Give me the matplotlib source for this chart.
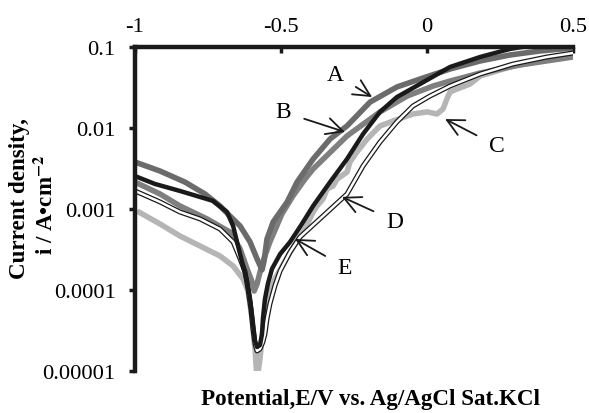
import matplotlib
matplotlib.use("Agg")
import matplotlib.pyplot as plt
from matplotlib.ticker import FixedLocator, FixedFormatter

plt.rcParams['font.family'] = ['Liberation Serif', 'DejaVu Serif']
plt.rcParams['mathtext.fontset'] = 'stix'

# ---- data (potential E / V, current density i / A cm^-2) ----
E_A = [-1.000, -0.914, -0.829, -0.760, -0.709, -0.675, -0.640, -0.606, -0.582, -0.565,
       -0.558, -0.548, -0.527, -0.479, -0.445, -0.390, -0.332, -0.274, -0.195, -0.103,
       -0.024, 0.079, 0.182, 0.284, 0.387, 0.500]
i_A = [0.00380, 0.00294, 0.00215, 0.00153, 0.00109, 0.000820, 0.000617, 0.000392, 0.000242, 0.000177,
       0.000228, 0.000427, 0.000691, 0.00122, 0.00215, 0.00414, 0.00731, 0.0106, 0.0209, 0.0321,
       0.0402, 0.0535, 0.0672, 0.0797, 0.0893, 0.0972]

E_B = [-1.000, -0.914, -0.846, -0.753, -0.675, -0.640, -0.616, -0.599, -0.592, -0.582,
       -0.565, -0.538, -0.497, -0.459, -0.418, -0.390, -0.274, -0.161, -0.068, 0.021,
       0.079, 0.182, 0.318, 0.500]
i_B = [0.00215, 0.00153, 0.00109, 0.000753, 0.000520, 0.000321, 0.000182, 0.000126, 9.72e-5, 0.000119,
       0.000209, 0.000392, 0.000867, 0.00145, 0.00234, 0.00312, 0.00797, 0.0158, 0.0248, 0.0330,
       0.0380, 0.0477, 0.0600, 0.0753]

E_C = [-0.993, -0.914, -0.846, -0.777, -0.709, -0.664, -0.630, -0.613, -0.599, -0.589,
       -0.582, -0.572, -0.562, -0.545, -0.521, -0.486, -0.452, -0.418, -0.390, -0.377,
       -0.356, -0.342, -0.322, -0.308, -0.274, -0.264, -0.240, -0.205, -0.161, -0.116,
       -0.048, 0.000, 0.034, 0.055, 0.068, 0.079, 0.103, 0.147, 0.182, 0.295, 0.411, 0.500]
i_C = [0.000944, 0.000653, 0.000464, 0.000349, 0.000263, 0.000198, 0.000137, 9.72e-5, 4.38e-5, 1.87e-5,
       7.96e-6, 1.41e-5, 3.30e-5, 7.74e-5, 0.000137, 0.000228, 0.000370, 0.000566, 0.000918, 0.00109,
       0.00133, 0.00177, 0.00192, 0.00234, 0.00286, 0.00380, 0.00506, 0.00731, 0.0106, 0.0122,
       0.0149, 0.0158, 0.0149, 0.0172, 0.0228, 0.0278, 0.0303, 0.0349, 0.0438, 0.0582, 0.0691, 0.0774]

E_D = [-1.000, -0.914, -0.846, -0.777, -0.709, -0.664, -0.640, -0.623, -0.613, -0.603,
       -0.596, -0.589, -0.582, -0.572, -0.562, -0.555, -0.548, -0.538, -0.521, -0.503,
       -0.469, -0.435, -0.356, -0.274, -0.219, -0.161, -0.103, -0.048, 0.010, 0.079,
       0.182, 0.295, 0.411, 0.500]
i_D = [0.00167, 0.00122, 0.000918, 0.000753, 0.000566, 0.000392, 0.000242, 0.000167, 0.000103, 5.82e-5,
       3.30e-5, 2.15e-5, 1.77e-5, 1.87e-5, 2.28e-5, 2.86e-5, 4.38e-5, 6.71e-5, 0.000112, 0.000172,
       0.000294, 0.000451, 0.000820, 0.00153, 0.00340, 0.00671, 0.0119, 0.0187, 0.0248, 0.0330,
       0.0464, 0.0617, 0.0753, 0.0843]

E_E = [-1.000, -0.932, -0.846, -0.733, -0.685, -0.664, -0.647, -0.630, -0.616, -0.606,
       -0.596, -0.589, -0.582, -0.572, -0.565, -0.562, -0.555, -0.545, -0.531, -0.503,
       -0.469, -0.435, -0.390, -0.332, -0.274, -0.219, -0.161, -0.103, -0.024, 0.079,
       0.182, 0.284, 0.387, 0.500]
i_E = [0.00255, 0.00204, 0.00167, 0.00126, 0.000918, 0.000617, 0.000349, 0.000198, 0.000126, 7.74e-5,
       3.80e-5, 2.35e-5, 1.98e-5, 2.09e-5, 2.86e-5, 4.38e-5, 7.74e-5, 0.000119, 0.000182, 0.000278,
       0.000392, 0.000600, 0.00109, 0.00215, 0.00414, 0.00843, 0.0158, 0.0241, 0.0349, 0.0567,
       0.0753, 0.0945, 0.109, 0.122]

x_ticks = [-1, -0.5, 0, 0.5]
x_tick_labels = ['-1', '-0.5', '0', '0.5']
y_ticks = [1e-5, 1e-4, 1e-3, 1e-2, 1e-1]
y_tick_labels = ['0.00001', '0.0001', '0.001', '0.01', '0.1']

labels = ['A', 'B', 'C', 'D', 'E']
arrow_tips = [(-0.188, 0.0241), (-0.281, 0.00893), (0.062, 0.0129), (-0.291, 0.00141), (-0.452, 0.000427)]
label_pos = [(-0.315, 0.0464), (-0.493, 0.0158), (0.240, 0.0060), (-0.110, 0.00071), (-0.281, 0.000192)]

# ---- figure ----
W, H = 589, 414
fig = plt.figure(figsize=(W / 100, H / 100), dpi=100)
ax = fig.add_axes([135 / W, 1 - 372 / H, 438 / W, 324 / H])

ax.plot(E_C, i_C, color='#b5b5b5', lw=4.0, solid_capstyle='butt', zorder=2)
ax.plot(E_B, i_B, color='#7f7f7f', lw=4.0, solid_capstyle='butt', zorder=3)
ax.plot(E_A, i_A, color='#6b6b6b', lw=4.0, solid_capstyle='butt', zorder=4)
ax.plot(E_D, i_D, color='#1a1a1a', lw=3.6, zorder=5)
ax.plot(E_D, i_D, color='white', lw=1.8, zorder=6)
ax.plot(E_E, i_E, color='#1a1a1a', lw=3.2, zorder=7)

ax.set_yscale('log')
ax.set_xlim(-1, 0.5)
ax.set_ylim(1e-5, 0.1)

ax.xaxis.set_major_locator(FixedLocator(x_ticks))
ax.xaxis.set_major_formatter(FixedFormatter(x_tick_labels))
ax.yaxis.set_major_locator(FixedLocator(y_ticks))
ax.yaxis.set_major_formatter(FixedFormatter(y_tick_labels))
ax.yaxis.set_minor_locator(FixedLocator([]))
ax.xaxis.set_minor_locator(FixedLocator([]))

ax.xaxis.tick_top()
ax.tick_params(axis='x', direction='in', length=4, width=2.5, labelsize=16.2, pad=8, color='#1a1a1a')
ax.tick_params(axis='y', direction='out', length=4, width=2.5, labelsize=16.2, pad=10, color='#1a1a1a')

for s in ['bottom', 'right']:
    ax.spines[s].set_visible(False)
for s in ['top', 'left']:
    ax.spines[s].set_linewidth(3.2)
    ax.spines[s].set_color('#1a1a1a')
    ax.spines[s].set_zorder(10)

fig.text(371 / W, 1 - 400 / H, 'Potential,E/V vs. Ag/AgCl Sat.KCl', fontsize=16.6,
         fontweight='bold', ha='center', va='center')
fig.text(20 / W, 1 - 199 / H, 'Current density,', fontsize=16.6, fontweight='bold',
         rotation=90, ha='center', va='center')
fig.text(46 / W, 1 - 205 / H, 'i / A\u2022cm$^{\\mathbf{-2}}$', fontsize=16.6, fontweight='bold',
         rotation=90, ha='center', va='center')

for lab, tip, pos in zip(labels, arrow_tips, label_pos):
    ax.annotate(lab, xy=tip, xytext=pos, fontsize=17, ha='center', va='center',
                arrowprops=dict(arrowstyle='->,head_length=0.7,head_width=0.35', lw=1.3,
                                color='#1a1a1a', shrinkA=8, shrinkB=0),
                zorder=12)

fig.savefig('out.png', dpi=100)
